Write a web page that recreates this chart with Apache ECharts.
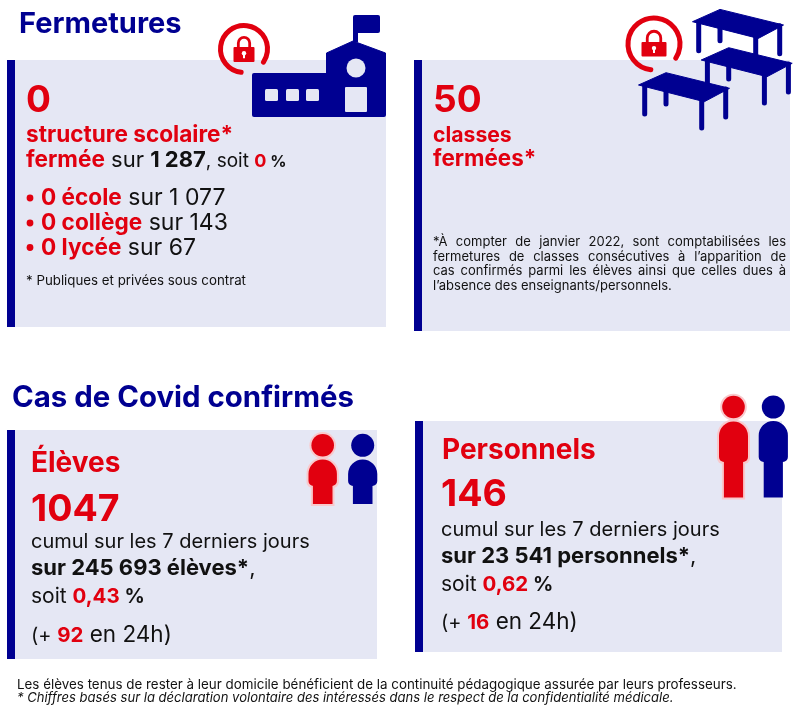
<!DOCTYPE html>
<html><head><meta charset="utf-8">
<style>html,body{margin:0;padding:0;background:#fff}#c{width:800px;height:714px}</style>
<script src="https://cdn.jsdelivr.net/npm/echarts@6/dist/echarts.min.js"></script>
</head><body><div id="c"></div>
<script>
// ---- values ----
const titles = ['Fermetures', 'Cas de Covid confirmés'];
const structuresFermees = [0, '1 287', '0'];
const niveaux = ['école', 'collège', 'lycée'];
const niveauxFermes = [0, 0, 0];
const niveauxTotal = ['1 077', '143', '67'];
const classesFermees = [50];
const casLabels = ['Élèves', 'Personnels'];
const casCumul = ['1047', '146'];
const casPopulation = ['245 693 élèves*', '23 541 personnels*'];
const casTaux = ['0,43', '0,62'];
const cas24h = ['92', '16'];
const noteClasses = [
  '*À compter de janvier 2022, sont comptabilisées les',
  'fermetures de classes consécutives à l’apparition de',
  'cas confirmés parmi les élèves ainsi que celles dues à',
  'l’absence des enseignants/personnels.'
];
const footer = [
  'Les élèves tenus de rester à leur domicile bénéficient de la continuité pédagogique assurée par leurs professeurs.',
  '* Chiffres basés sur la déclaration volontaire des intéressés dans le respect de la confidentialité médicale.'
];
// ---- style ----
const BLUE = '#000091', RED = '#e1000f', INK = '#111111', PANEL = '#e5e7f4', HALO = '#f9c9cc';
const FONT = 'Inter';
const ctx = document.createElement('canvas').getContext('2d');
const els = [];
function w(t, s, b, it) { ctx.font = (it ? 'italic ' : '') + (b ? 700 : 400) + ' ' + s + 'px ' + FONT; return ctx.measureText(t).width; }
function line(x, base, runs) {
  for (const r of runs) {
    const [t, s, c, b, it] = r;
    els.push({ type: 'text', z: 10, style: { text: t, x: x, y: base - 0.30 * s, fill: c, fontFamily: FONT, fontSize: s, fontWeight: b ? 700 : 400, fontStyle: it ? 'italic' : 'normal', verticalAlign: 'middle', align: 'left' } });
    x += w(t, s, b, it);
  }
}
function justified(x, base, t, width, s, c) {
  const words = t.split(' ');
  const sum = words.reduce((a, k) => a + w(k, s), 0);
  const gap = (width - sum) / (words.length - 1);
  for (const k of words) { line(x, base, [[k, s, c]]); x += w(k, s) + gap; }
}
const rect = (x, y, W, H, fill, r, z) => els.push({ type: 'rect', z: z || 2, shape: { x, y, width: W, height: H, r: r || 0 }, style: { fill } });
const circle = (cx, cy, r, fill, stroke, lw, z) => els.push({ type: 'circle', z: z || 3, shape: { cx, cy, r }, style: { fill, stroke, lineWidth: lw || 0 } });
const poly = (points, fill, z) => els.push({ type: 'polygon', z: z || 3, shape: { points }, style: { fill, lineJoin: 'round', stroke: fill, lineWidth: 1 } });
const seg = (x1, y1, x2, y2, lw, z) => els.push({ type: 'line', z: z || 3, shape: { x1, y1, x2, y2 }, style: { stroke: BLUE, lineWidth: lw, lineCap: 'round' } });

function panel(x, y, W, H) { rect(x, y, W, H, PANEL, 0, 1); rect(x, y, 8, H, BLUE, 0, 2); }
function lock(cx, cy, R, lw, a0, a1, bw, bh, by) {
  els.push({ type: 'arc', z: 3, shape: { cx, cy, r: R, startAngle: a0 * Math.PI / 180, endAngle: a1 * Math.PI / 180, clockwise: true }, style: { fill: 'none', stroke: RED, lineWidth: lw, lineCap: 'round' } });
  rect(cx - bw / 2, by, bw, bh, RED, 1, 3);
  const sr = bw * 0.27;
  els.push({ type: 'arc', z: 3, shape: { cx, cy: by - 4, r: sr, startAngle: Math.PI, endAngle: 2 * Math.PI, clockwise: true }, style: { fill: 'none', stroke: RED, lineWidth: 2.8 } });
  rect(cx - sr - 1.4, by - 4, 2.8, 5, RED, 0, 3); rect(cx + sr - 1.4, by - 4, 2.8, 5, RED, 0, 3);
  circle(cx, by + bh * 0.42, 2.2, '#fff', null, 0, 4); rect(cx - 1, by + bh * 0.42, 2, 5, '#fff', 0, 4);
}
function table(dx, dy, z) {
  const P = (x, y) => [x + dx, y + dy];
  poly([P(638.5, 85), P(666, 72.7), P(729.5, 88.3), P(704.3, 101.7)], BLUE, z);
  seg(644.7 + dx, 86 + dy, 644.7 + dx, 114 + dy, 5, z);
  seg(666 + dx, 90 + dy, 666 + dx, 104 + dy, 5, z);
  seg(701.7 + dx, 100 + dy, 701.7 + dx, 128 + dy, 5, z);
  seg(725.7 + dx, 89 + dy, 725.7 + dx, 117 + dy, 5, z);
}
function person(cx, headY, r, top, sh, hw, leg, bottom, fill, halo) {
  if (halo) {
    circle(cx, headY, r + 2, halo, null, 0, 3);
    rect(cx - hw - 2, top - 2, 2 * hw + 4, sh - top + 4, halo, [hw + 2, hw + 2, 6, 6], 3);
    rect(cx - leg - 2, sh - 2, 2 * leg + 4, bottom - sh + 4, halo, 0, 3);
  }
  circle(cx, headY, r, fill, null, 0, 4);
  rect(cx - hw, top, 2 * hw, sh - top, fill, [hw, hw, 5, 5], 4);
  rect(cx - leg, sh - 1, 2 * leg, bottom - sh + 1, fill, 0, 4);
}

// ---- Fermetures ----
line(19, 33, [[titles[0], 29, BLUE, 1]]);
panel(7, 60, 379, 267);
panel(414, 60, 376, 271);
line(26, 111.5, [[String(structuresFermees[0]), 37, RED, 1]]);
line(26, 142, [['structure scolaire*', 22.6, RED, 1]]);
line(26, 167, [['fermée', 22.6, RED, 1], [' sur ', 22, INK], [structuresFermees[1], 22, INK, 1], [', soit ', 19, INK], [structuresFermees[2], 18, RED, 1], [' %', 16, INK, 1]]);
niveaux.forEach((n, i) => {
  const b = [205, 230, 254.5][i];
  circle(30, b - 7, 3.4, RED, null, 0, 10);
  line(41, b, [[niveauxFermes[i] + ' ' + n, 22.6, RED, 1], [' sur ' + niveauxTotal[i], 23, INK]]);
});
line(26, 285, [['* Publiques et privées sous contrat', 13.3, INK]]);
line(433, 111.5, [[String(classesFermees[0]), 37, RED, 1]]);
line(433, 142, [['classes', 21.2, RED, 1]]);
line(433, 166, [['fermées*', 22.4, RED, 1]]);
noteClasses.forEach((t, i) => {
  const b = 246 + i * 14.5;
  if (i < 3) justified(433, b, t, 353, 13, INK); else line(433, b, [[t, 13, INK]]);
});
// school
rect(252, 73, 134, 44, BLUE, 2, 3);
poly([[326.5, 53], [353, 41], [385.5, 53], [385.5, 80], [326.5, 80]], BLUE);
rect(353, 15, 27, 18, BLUE, 2, 3);
rect(353, 30, 5, 12, BLUE, 0, 3);
circle(356, 68, 9.5, PANEL);
rect(345, 87, 22, 25, PANEL, 1, 4);
[265, 286, 306].forEach(x => rect(x, 89, 13, 12, PANEL, 1.5, 4));
lock(244, 49, 23.5, 5, 97, 394, 21, 15, 47);
// tables
table(54, -63.3, 3); table(62.7, -25, 3.1); table(0, 0, 3.2);
lock(654, 44, 26, 5, 97, 393, 25, 14.5, 42);

// ---- Cas ----
line(12, 407, [[titles[1], 29.4, BLUE, 1]]);
panel(7, 430, 370, 229);
panel(415, 421, 367, 231);
person(322.7, 445.3, 11.3, 459.5, 486, 14.2, 9.8, 504, RED, HALO);
person(362.7, 445.3, 11.5, 459.5, 486, 14.6, 9.8, 504, BLUE);
person(733.5, 407, 11.3, 421.5, 462, 14.5, 9.6, 497.5, RED, HALO);
person(773.3, 407, 11.5, 421, 462, 14.6, 9.6, 497.5, BLUE);
[[31, 471.7, 520.7, 548.3, 575, 603, 641.7], [442, 459, 506, 536, 563, 591, 629]].forEach((p, i) => {
  const x = p[0] - (i ? 1 : 0);
  line(i ? 442 : 31, p[1], [[casLabels[i], 28, RED, 1]]);
  line(i ? 441 : 31, p[2], [[casCumul[i], 37.5, RED, 1]]);
  line(x, p[3], [['cumul sur les 7 derniers jours', 20, INK]]);
  line(x, p[4], [['sur ' + casPopulation[i], 22, INK, 1], [',', 22, INK]]);
  line(x, p[5], [['soit ', 21, INK], [casTaux[i], 20.5, RED, 1], [' %', 20, INK, 1]]);
  line(x, p[6], [['(+ ', 20, INK], [cas24h[i], 20.5, RED, 1], [' en 24h)', 22.5, INK]]);
});
line(17, 689, [[footer[0], 13.39, INK]]);
line(17, 702, [[footer[1], 13.06, INK, 0, 1]]);

const chart = echarts.init(document.getElementById('c'), null, { width: 800, height: 714 });
chart.setOption({ animation: false, backgroundColor: '#ffffff', graphic: { elements: els } });
</script></body></html>
